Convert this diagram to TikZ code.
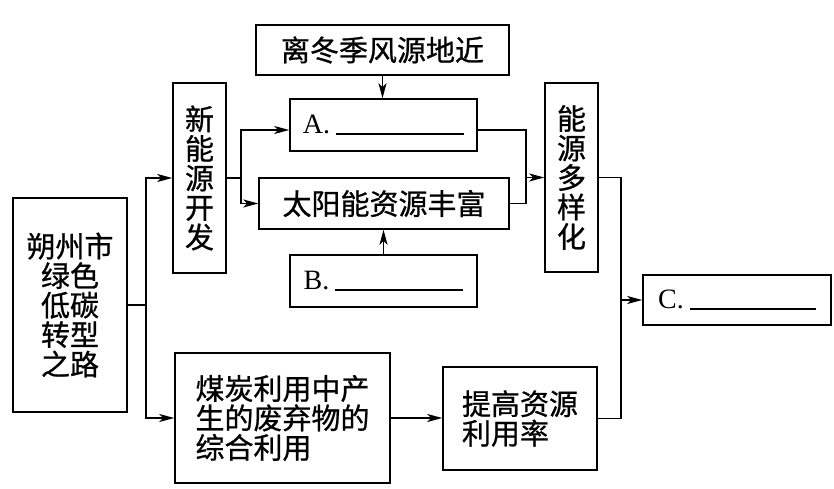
\documentclass[tikz,border=0pt]{standalone}
\usepackage{fontspec}
\setmainfont{Liberation Serif}
\newfontfamily\cjk[FakeBold=0.8]{Noto Sans CJK SC}
\usetikzlibrary{arrows.meta, positioning}

\begin{document}
\begin{tikzpicture} [x=1pt, y=-1pt, line width=1.5pt,
    box/.style={draw, inner sep=0pt, align=center, font=\cjk\fontsize{29}{29.5}\selectfont},
    blank/.style={draw, inner sep=0pt, font=\fontsize{28}{28}\selectfont},
    >={Stealth[length=15pt, width=8pt, inset=4pt]}]
\useasboundingbox (0,0) rectangle (834,489);
\node (road) [box, minimum width=114pt, minimum height=214pt] at (70,305) {朔州市\\绿色\\低碳\\转型\\之路};
\node (newe) [box, minimum width=53pt, minimum height=190pt] at (199.5,178) {新\\能\\源\\开\\发};
\node (wind) [box, minimum width=253pt, minimum height=50pt] at (382.5,50) {离冬季风源地近};
\node (a) [blank, minimum width=187pt, minimum height=52pt] at (383.5,125) {A.\hspace{6pt}\rule[-1pt]{128pt}{1.5pt}\hspace{8pt}};
\node (sun) [box, minimum width=250pt, minimum height=51pt] at (384,203.5) {太阳能资源丰富};
\node (b) [blank, minimum width=187pt, minimum height=52pt] at (383.5,281) {B.\hspace{6pt}\rule[-1pt]{128pt}{1.5pt}\hspace{8pt}};
\node (multi) [box, minimum width=53pt, minimum height=189pt] at (571.5,177.5) {能\\源\\多\\样\\化};
\node (c) [blank, minimum width=188pt, minimum height=50pt] at (737,300) {C.\hspace{6pt}\rule[-1pt]{126pt}{1.5pt}\hspace{4pt}};
\node (coal) [box, minimum width=215pt, minimum height=130pt, align=left] at (282.5,418) {煤炭利用中产\\生的废弃物的\\综合利用};
\node (rate) [box, minimum width=154pt, minimum height=103pt, align=left] at (520,418.5) {提高资源\\利用率};
\draw (road.east) -- ++(18,0) coordinate (split);
\draw [->] (split) |- (newe.west);
\draw [->] (split) |- (coal.west);
\draw (newe.east) -- ++(14,0) coordinate (fork);
\draw [->] (fork) |- ([yshift=-5pt]a.west);
\draw [->] (fork) |- (sun.west);
\draw [->] (wind.south) -- (wind.south |- a.north);
\draw [->] (b.north) -- (b.north |- sun.south);
\draw ([yshift=-5pt]a.east) -- ++(48,0) coordinate (join) |- (sun.east);
\draw [->] (join |- multi.west) -- (multi.west);
\draw (multi.east) -- ++(22,0) coordinate (merge) |- (rate.east);
\draw [->] (merge |- c.west) -- (c.west);
\draw [->] (coal.east) -- (coal.east -| rate.west);
\end{tikzpicture}
\end{document}
